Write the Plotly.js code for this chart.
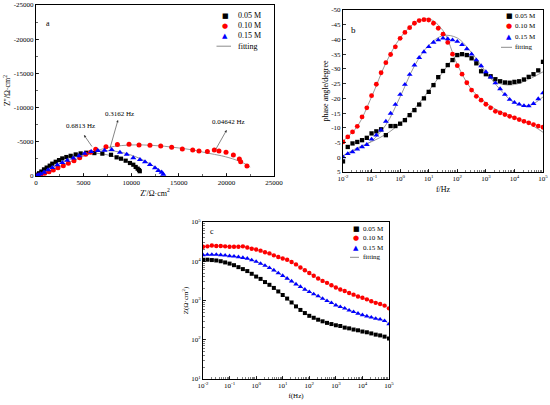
<!DOCTYPE html>
<html>
<head>
<meta charset="utf-8">
<script src="https://cdn.plot.ly/plotly-3.0.1.min.js"></script>
<style>html,body{margin:0;padding:0;background:#fff;}#chart{width:550px;height:405px;}</style>
</head>
<body>
<div id="chart"></div>
<script>
// ---------- data ----------
var seriesNames = ['0.05 M', '0.10 M', '0.15 M'];
var fitName = 'fitting';

// (a) Nyquist: Z' and Z'' (Ω·cm²), low frequency first
var nyqRe005 = [10900,10820,10680,10470,10220,9870,9420,8930,8470,7880,6970,6130,5290,4690,4170,3640,3190,2760,2420,2070,1710,1440,1120,840,560,320,150,60];
var nyqIm005 = [-700,-880,-1070,-1320,-1650,-1900,-2240,-2530,-2730,-3100,-3270,-3350,-3400,-3300,-3150,-2950,-2770,-2570,-2320,-2080,-1800,-1510,-1230,-970,-650,-400,-200,-80];
var nyqRe010 = [22160,21500,21360,20730,19960,19220,18730,18000,17120,16460,15370,14250,13100,11970,10820,9770,8550,7350,6270,5740,5220,4590,3990,3400,2870,2310,1820,1370,910,490,200];
var nyqIm010 = [-1460,-2100,-2490,-3070,-3460,-3650,-3800,-3600,-3650,-3800,-3950,-4190,-4390,-4480,-4530,-4630,-4600,-4290,-3900,-3460,-3170,-2680,-2240,-1850,-1510,-1220,-880,-630,-390,-150,-50];
var nyqRe015 = [13370,13200,12850,12500,11970,11450,10920,10220,9530,8820,7950,7200,6500,5800,5110,4520,3920,3290,2760,2240,1710,1260,840,490,250,100];
var nyqIm015 = [-250,-540,-780,-1170,-1650,-2050,-2390,-2630,-3150,-3450,-3850,-3750,-3700,-3550,-3300,-2950,-2600,-2290,-1950,-1610,-1220,-880,-540,-290,-140,-50];
// (a) fitting curves
var fitRe005 = [0,1500,3000,4500,6000,7500,8500,9500,10300,10800];
var fitIm005 = [0,-1400,-2600,-3250,-3350,-3100,-2700,-2150,-1500,-800];
var fitRe010 = [0,1500,3000,4500,6000,7500,9000,10500,12000,13500,15000,16500,18000,19500,21000,22000,22500];
var fitIm010 = [0,-800,-1700,-2600,-3500,-4150,-4450,-4550,-4500,-4350,-4100,-3800,-3350,-2950,-2350,-1750,-1300];
var fitRe015 = [0,1500,3000,4500,6000,7500,9000,10500,11500,12500,13200,13550];
var fitIm015 = [0,-1050,-2150,-3000,-3500,-3700,-3450,-2800,-2150,-1300,-650,-150];
var nyqAnnot = ['0.6813 Hz', '0.3162 Hz', '0.04642 Hz'];

// tick labels
var ticksA_x = [0, 5000, 10000, 15000, 20000, 25000];
var ticksA_xText = ['0', '5000', '10000', '15000', '20000', '25000'];
var ticksA_y = [0, -5000, -10000, -15000, -20000, -25000];
var ticksA_yText = ['0', '-5000', '-10000', '-15000', '-20000', '-25000'];
var ticksB_y = [5, 0, -5, -10, -15, -20, -25, -30, -35, -40, -45, -50];
var ticksB_yText = ['5', '0', '-5', '-10', '-15', '-20', '-25', '-30', '-35', '-40', '-45', '-50'];
var ticksF = [0.01, 0.1, 1, 10, 100, 1000, 10000, 100000];
var ticksFText = ['10<sup>-2</sup>', '10<sup>-1</sup>', '10<sup>0</sup>', '10<sup>1</sup>', '10<sup>2</sup>', '10<sup>3</sup>', '10<sup>4</sup>', '10<sup>5</sup>'];
var ticksZ = [10, 100, 1000, 10000, 100000];
var ticksZText = ['10<sup>1</sup>', '10<sup>2</sup>', '10<sup>3</sup>', '10<sup>4</sup>', '10<sup>5</sup>'];

// (b), (c) Bode: frequency (Hz)
var freq = [0.01,0.01468,0.02154,0.03162,0.04642,0.06813,0.1,0.1468,0.2154,0.3162,0.4642,0.6813,
  1,1.468,2.154,3.162,4.642,6.813,10,14.68,21.54,31.62,46.42,68.13,
  100,146.8,215.4,316.2,464.2,681.3,1000,1468,2154,3162,4642,6813,
  10000,14678,21544,31623,46416,68129,100000];
// phase angle (degree)
var phase005 = [1.4,-3.5,-4.7,-5.2,-5.8,-6.6,-8.1,-8.8,-9.5,-7.5,-10.6,-10.6,-11.4,-12.6,-14.3,-16,-17.9,-20,-22.2,-24.5,-27.2,-29.3,-31.3,-33,-34.7,-35,-34.7,-33.6,-31.9,-29.2,-28.2,-27.5,-26.5,-25.8,-25.4,-25.3,-25.6,-25.8,-26.4,-27.3,-28.2,-29.5,-32.4];
var phase010 = [-5.2,-6.9,-8.6,-10.5,-13.7,-16.8,-20.9,-24.8,-28.7,-32.1,-34.9,-37.5,-40.4,-42.4,-44,-45.5,-46.4,-46.7,-46.6,-45.5,-43.8,-41.8,-39,-35,-31.1,-28.2,-25.3,-22.8,-20.7,-19.4,-18,-16.8,-15.6,-15.1,-14.5,-13.9,-13.4,-12.8,-12.2,-11.7,-11.1,-10.6,-10.2];
var phase015 = [-0.1,-1.2,-1.8,-2.7,-3.5,-4.3,-6.1,-7.5,-9.2,-12.2,-14.9,-17.9,-21.3,-24.7,-28.1,-31.3,-33.8,-35.8,-37.5,-39,-39.8,-40.4,-40.2,-39.8,-39.3,-38.2,-36.8,-35,-33,-31,-29,-27.2,-25.2,-23.2,-21.3,-19.6,-18.6,-18,-17.5,-17.4,-18.2,-19.8,-21.8];
// phase fitting
var fitFreq = [0.01,0.03162,0.1,0.3162,1,3.162,10,31.62,100,316.2,1000,3162,10000,31623,100000];
var fitPhase005 = [-0.5,-3.2,-5.3,-7.8,-11.5,-16.5,-22.5,-29,-34.5,-34,-28.5,-25,-24.7,-26.5,-29];
var fitPhase010 = [-5.5,-10.5,-20.5,-32,-40.5,-45.5,-47,-43,-31.5,-23,-18.5,-15.5,-13.5,-11.5,-8.5];
var fitPhase015 = [-0.5,-2.8,-5.5,-11,-20.5,-31,-38,-41.3,-40.5,-35.5,-29,-23,-18.5,-17.5,-20.5];
// |Z| (Ω·cm²)
var modZ005 = [10960,10960,10720,10470,10000,9330,8710,7940,7080,6310,5620,4790,4070,3550,2950,2510,2090,1700,1380,1120,891,708,575,479,407,363,324,295,269,251,234,224,204,195,182,174,162,155,145,135,129,120,107];
var modZ010 = [23440,23990,25120,24550,24550,23990,23440,23440,23440,23990,22390,20890,19950,18620,16980,15850,14130,12880,11750,10960,9550,8320,6920,5890,5010,4270,3630,3160,2820,2450,2140,1910,1740,1550,1410,1260,1170,1070,955,871,813,741,631];
var modZ015 = [14450,14790,14790,14790,14450,14130,13650,13340,12880,12300,11750,10720,9770,8710,7760,6760,5890,5010,4270,3630,3090,2600,2240,1910,1660,1450,1290,1120,977,871,759,692,631,562,513,468,427,398,372,347,331,302,251];

// ---------- styles ----------
var colors = ['#000000', '#ff0000', '#0000ff'];
var symbols = ['square', 'circle', 'triangle-up'];
var glyphs = ['\u25A0', '\u25CF', '\u25B2'];
var fitColor = '#8c8c8c';
var FONT = 'Liberation Serif, Times New Roman, serif';
var TICK = 7;

function markers(x, y, k, xa, ya, size) {
  return {x: x, y: y, xaxis: xa, yaxis: ya, type: 'scatter', mode: 'markers', name: seriesNames[k],
    showlegend: false, marker: {symbol: symbols[k], color: colors[k], size: size[k], line: {width: 0}}};
}
function fitLine(x, y, xa, ya) {
  return {x: x, y: y, xaxis: xa, yaxis: ya, type: 'scatter', mode: 'lines', name: fitName,
    showlegend: false, line: {color: fitColor, width: 0.9, shape: 'spline'}};
}

var szA = [4.2, 5, 5.4], szB = [4.3, 4.8, 5.2], szC = [4, 4.4, 4.8];
var traces = [
  fitLine(fitRe005, fitIm005, 'x', 'y'), fitLine(fitRe010, fitIm010, 'x', 'y'), fitLine(fitRe015, fitIm015, 'x', 'y'),
  markers(nyqRe005, nyqIm005, 0, 'x', 'y', szA), markers(nyqRe010, nyqIm010, 1, 'x', 'y', szA), markers(nyqRe015, nyqIm015, 2, 'x', 'y', szA),
  fitLine(fitFreq, fitPhase005, 'x2', 'y2'), fitLine(fitFreq, fitPhase010, 'x2', 'y2'), fitLine(fitFreq, fitPhase015, 'x2', 'y2'),
  markers(freq, phase005, 0, 'x2', 'y2', szB), markers(freq, phase010, 1, 'x2', 'y2', szB), markers(freq, phase015, 2, 'x2', 'y2', szB),
  fitLine(freq, modZ005, 'x3', 'y3'), fitLine(freq, modZ010, 'x3', 'y3'), fitLine(freq, modZ015, 'x3', 'y3'),
  markers(freq, modZ005, 0, 'x3', 'y3', szC), markers(freq, modZ010, 1, 'x3', 'y3', szC), markers(freq, modZ015, 2, 'x3', 'y3', szC)
];

// pixel -> paper helpers (layout positions only)
function PX(x) { return x / 550; }
function PY(y) { return 1 - y / 405; }

function axisBase(extra) {
  var a = {showline: true, linecolor: '#000', linewidth: 1, mirror: true, ticks: 'inside', ticklen: 3,
    tickcolor: '#000', tickwidth: 0.8, showgrid: false, zeroline: false, tickmode: 'array',
    tickfont: {family: FONT, size: TICK, color: '#000'}};
  for (var k in extra) a[k] = extra[k];
  return a;
}

var annotations = [];
var shapes = [];
function legendBlock(mx, tx, rows, lx0, lx1, fs, gs) {
  for (var k = 0; k < 3; k++) {
    annotations.push({xref: 'paper', yref: 'paper', x: PX(mx), y: PY(rows[k]), text: glyphs[k],
      showarrow: false, xanchor: 'center', yanchor: 'middle', font: {family: 'DejaVu Sans', size: gs, color: colors[k]}});
    annotations.push({xref: 'paper', yref: 'paper', x: PX(tx), y: PY(rows[k]), text: seriesNames[k],
      showarrow: false, xanchor: 'left', yanchor: 'middle', font: {family: FONT, size: fs, color: '#000'}});
  }
  shapes.push({type: 'line', xref: 'paper', yref: 'paper', x0: PX(lx0), x1: PX(lx1), y0: PY(rows[3]), y1: PY(rows[3]),
    line: {color: fitColor, width: 1}});
  annotations.push({xref: 'paper', yref: 'paper', x: PX(tx), y: PY(rows[3]), text: fitName,
    showarrow: false, xanchor: 'left', yanchor: 'middle', font: {family: FONT, size: fs, color: '#000'}});
}
legendBlock(225, 236, [15.7, 25.7, 35.7, 46.2], 216.5, 231, 8, 7);
legendBlock(509, 513, [15.7, 26, 37, 47.3], 501, 512, 7, 7);
legendBlock(356, 361, [229.3, 238.3, 247.7, 257.3], 350, 359, 7, 7);

// panel letters
annotations.push({xref: 'paper', yref: 'paper', x: PX(44.3), y: PY(16.7), text: 'a', showarrow: false, font: {family: FONT, size: 8, color: '#000'}});
annotations.push({xref: 'paper', yref: 'paper', x: PX(353), y: PY(22.7), text: 'b', showarrow: false, font: {family: FONT, size: 9, color: '#000'}});
annotations.push({xref: 'paper', yref: 'paper', x: PX(211.7), y: PY(231.7), text: 'c', showarrow: false, font: {family: FONT, size: 8, color: '#000'}});

// Nyquist frequency labels with arrows (arrow heads point to the labels)
var annTextPos = [[4700, -7250], [8750, -9100], [20200, -7850]];
var annHead = [[5040, -5990], [8610, -8190], [20030, -6730]];
var annTail = [[5990, -4090], [7720, -3800], [18800, -3700]];
for (var k = 0; k < 3; k++) {
  annotations.push({xref: 'x', yref: 'y', x: annTextPos[k][0], y: annTextPos[k][1], text: nyqAnnot[k], showarrow: false,
    font: {family: FONT, size: 7, color: '#000'}});
  annotations.push({xref: 'x', yref: 'y', x: annHead[k][0], y: annHead[k][1], ax: annTail[k][0], ay: annTail[k][1],
    axref: 'x', ayref: 'y', text: '', showarrow: true, arrowhead: 2, arrowsize: 0.8, arrowwidth: 0.6, arrowcolor: '#333'});
}

var layout = {
  width: 550, height: 405, autosize: false,
  margin: {l: 0, r: 0, t: 0, b: 0},
  paper_bgcolor: '#fff', plot_bgcolor: '#fff',
  showlegend: false,
  font: {family: FONT, color: '#000'},
  xaxis: axisBase({domain: [PX(36), PX(274)], anchor: 'y', range: [0, 25000],
    tickvals: ticksA_x, ticktext: ticksA_xText,
    minor: {ticks: 'inside', ticklen: 1.6, dtick: 2500, tickcolor: '#000', tickwidth: 0.6},
    title: {text: "Z'/Ω·cm<sup>2</sup>", font: {family: FONT, size: 8, color: '#000'}, standoff: 3}}),
  yaxis: axisBase({domain: [PY(176), PY(5)], anchor: 'x', range: [0, -25000],
    tickvals: ticksA_y, ticktext: ticksA_yText,
    minor: {ticks: 'inside', ticklen: 1.6, dtick: 2500, tickcolor: '#000', tickwidth: 0.6},
    title: {text: "Z''/Ω·cm<sup>2</sup>", font: {family: FONT, size: 8, color: '#000'}, standoff: 1}}),
  xaxis2: axisBase({domain: [PX(343), PX(543)], anchor: 'y2', type: 'log', range: [-2, 5],
    tickvals: ticksF, ticktext: ticksFText,
    minor: {ticks: 'inside', ticklen: 1.6, dtick: 'D1', tickcolor: '#000', tickwidth: 0.5},
    title: {text: 'f/Hz', font: {family: FONT, size: 8, color: '#000'}, standoff: 3}}),
  yaxis2: axisBase({domain: [PY(172), PY(10)], anchor: 'x2', range: [5, -50],
    tickvals: ticksB_y, ticktext: ticksB_yText,
    title: {text: 'phase angle/degree', font: {family: FONT, size: 8, color: '#000'}, standoff: 1}}),
  xaxis3: axisBase({domain: [PX(203), PX(389)], anchor: 'y3', type: 'log', range: [-2, 5],
    tickvals: ticksF, ticktext: ticksFText,
    minor: {ticks: 'inside', ticklen: 1.6, dtick: 'D1', tickcolor: '#000', tickwidth: 0.5},
    title: {text: 'f(Hz)', font: {family: FONT, size: 7, color: '#000'}, standoff: 3}}),
  yaxis3: axisBase({domain: [PY(379), PY(222)], anchor: 'x3', type: 'log', range: [1, 5],
    tickvals: ticksZ, ticktext: ticksZText,
    minor: {ticks: 'inside', ticklen: 1.6, dtick: 'D1', tickcolor: '#000', tickwidth: 0.5},
    title: {text: 'Z(Ω·cm<sup>2</sup>)', font: {family: FONT, size: 7, color: '#000'}, standoff: 1}}),
  annotations: annotations,
  shapes: shapes
};

Plotly.newPlot('chart', traces, layout, {staticPlot: true, displayModeBar: false});
</script>
</body>
</html>
